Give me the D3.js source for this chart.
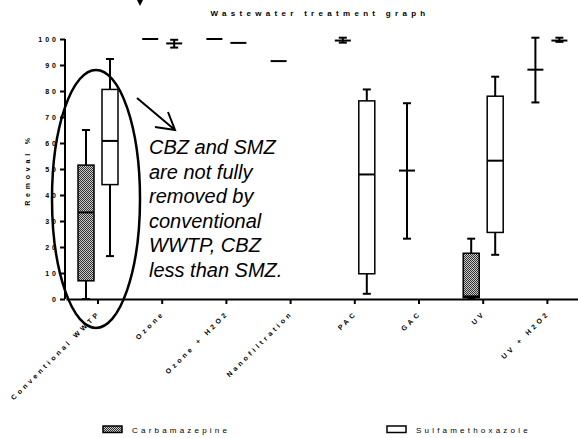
<!DOCTYPE html>
<html>
  <head>
    <meta charset="utf-8">
    <script src="https://d3js.org/d3.v7.min.js"></script>
    <title>Wastewater treatment graph</title>
    <style>
      body { margin: 0; background: #fff; }
      text { font-family: Arial, "Liberation Sans", sans-serif; }
    </style>
  </head>
  <body>
    <div id="chart"></div>
  <script>

    // DATA (removal %)
    const categories = ["Conventional WWTP", "Ozone", "Ozone + H2O2", "Nanofiltration",
                        "PAC", "GAC", "UV", "UV + H2O2"];
    const series = ["Carbamazepine", "Sulfamethoxazole"];

    // null = not shown; q1/q3 null = no box (mean with range only)
    const cbzMin = [0, 100, 100, 91.5, 98.6, 23.2, 0, 75.6];
    const cbzQ1  = [7, null, null, null, null, null, 0.5, null];
    const cbzMid = [33.3, 100, 100, 91.5, 99.4, 49.4, 1, 88.2];
    const cbzQ3  = [51.5, null, null, null, null, null, 17.6, null];
    const cbzMax = [65, 100, 100, 91.5, 100.5, 75.3, 23.2, 100.5];

    const smzMin = [16.5, 96.7, 98.5, null, 2, null, 17, 98.9];
    const smzQ1  = [44, null, null, null, 9.7, null, 25.6, null];
    const smzMid = [60.8, 98.3, 98.5, null, 47.9, null, 53.2, 99.4];
    const smzQ3  = [80.6, null, null, null, 76.2, null, 78, null];
    const smzMax = [92.3, 99.7, 98.5, null, 80.6, null, 85.5, 100.5];

    const yTicks = [0, 10, 20, 30, 40, 50, 60, 70, 80, 90, 100];

    const noteLines = ["CBZ and SMZ", "are not fully", "removed by",
                       "conventional", "WWTP, CBZ", "less than SMZ."];

    // LAYOUT
    const W = 578, H = 438;
    const svg = d3.select('#chart').append('svg')
      .attr('width', W).attr('height', H);

    const defs = svg.append('defs');
    const pat = defs.append('pattern')
      .attr('id', 'checks').attr('patternUnits', 'userSpaceOnUse')
      .attr('width', 2).attr('height', 2);
    pat.append('rect').attr('width', 2).attr('height', 2).attr('fill', '#c8c8c8');
    pat.append('rect').attr('width', 1).attr('height', 1).attr('fill', '#333');
    pat.append('rect').attr('x', 1).attr('y', 1).attr('width', 1).attr('height', 1).attr('fill', '#333');

    const x = d3.scaleBand().domain(categories).range([65.9, 579.5]);
    const xs = d3.scaleBand().domain(series).range([-24, 24]);
    const y = d3.scaleLinear().domain([0, 100]).range([299, 39]);
    const boxW = 16, capW = 8;

    // title
    svg.append('text')
      .attr('x', 320).attr('y', 16)
      .attr('text-anchor', 'middle')
      .attr('font-size', 8).attr('font-weight', 'bold')
      .attr('letter-spacing', 4.3)
      .text('Wastewater treatment graph');

    // cut-off arrow head at top
    svg.append('path')
      .attr('d', 'M137,0 L143,0 L140,6 Z')
      .attr('fill', '#000');

    // y axis
    const yAxis = svg.append('g')
      .attr('transform', 'translate(65,0)')
      .call(d3.axisLeft(y).tickValues(yTicks).tickSize(5).tickPadding(1).tickFormat(d3.format('d')));
    yAxis.selectAll('path, line').attr('stroke', '#000').attr('stroke-width', 2);
    yAxis.select('.domain').attr('d', 'M0,' + y(100) + 'V' + y(0));
    yAxis.selectAll('text')
      .attr('font-size', 7).attr('font-weight', 'bold')
      .attr('letter-spacing', 3).attr('font-family', 'Arial, "Liberation Sans", sans-serif');

    svg.append('text')
      .attr('transform', 'translate(30,170) rotate(-90)')
      .attr('text-anchor', 'middle')
      .attr('font-size', 7).attr('font-weight', 'bold')
      .attr('letter-spacing', 3.8)
      .text('Removal %');

    // x axis
    const xAxis = svg.append('g')
      .attr('transform', 'translate(0,' + y(0) + ')')
      .call(d3.axisBottom(x).tickSize(5).tickSizeOuter(0));
    xAxis.selectAll('path, line').attr('stroke', '#000').attr('stroke-width', 2);
    xAxis.selectAll('text').remove();
    xAxis.selectAll('.tick')
      .append('text')
      .attr('transform', 'translate(1,13) rotate(-45)')
      .attr('text-anchor', 'end')
      .attr('dy', '0.35em')
      .attr('fill', '#000')
      .attr('font-size', 7).attr('font-weight', 'bold')
      .attr('letter-spacing', 3.2)
      .attr('font-family', 'Arial, "Liberation Sans", sans-serif')
      .text(d => d);

    // build rows from arrays
    const stats = {
      Carbamazepine: [cbzMin, cbzQ1, cbzMid, cbzQ3, cbzMax],
      Sulfamethoxazole: [smzMin, smzQ1, smzMid, smzQ3, smzMax]
    };
    const rows = [];
    series.forEach(s => {
      const [mn, q1, md, q3, mx] = stats[s];
      categories.forEach((c, i) => {
        if (md[i] == null) return;
        rows.push({cat: c, s: s, min: mn[i], q1: q1[i], mid: md[i], q3: q3[i], max: mx[i]});
      });
    });
    const cx = d => x(d.cat) + x.bandwidth() / 2 + xs(d.s) + xs.bandwidth() / 2;

    const g = svg.append('g').attr('stroke', '#000').attr('fill', 'none');

    rows.forEach(d => {
      const c = cx(d);
      const hasBox = d.q1 != null;
      const lo = hasBox ? d.q1 : d.mid, hi = hasBox ? d.q3 : d.mid;
      // whiskers
      if (d.max > hi) {
        g.append('line').attr('x1', c).attr('x2', c).attr('y1', y(hi)).attr('y2', y(d.max)).attr('stroke-width', 2);
        g.append('line').attr('x1', c - capW / 2).attr('x2', c + capW / 2)
          .attr('y1', y(d.max)).attr('y2', y(d.max)).attr('stroke-width', 2);
      }
      if (d.min < lo) {
        g.append('line').attr('x1', c).attr('x2', c).attr('y1', y(lo)).attr('y2', y(d.min)).attr('stroke-width', 2);
        g.append('line').attr('x1', c - capW / 2).attr('x2', c + capW / 2)
          .attr('y1', y(d.min)).attr('y2', y(d.min)).attr('stroke-width', 2);
      }
      if (hasBox) {
        g.append('rect')
          .attr('x', c - boxW / 2).attr('width', boxW)
          .attr('y', y(d.q3)).attr('height', y(d.q1) - y(d.q3))
          .attr('fill', d.s === 'Carbamazepine' ? 'url(#checks)' : '#fff')
          .attr('stroke-width', 1.5);
      }
      g.append('line').attr('x1', c - boxW / 2).attr('x2', c + boxW / 2)
        .attr('y1', y(d.mid)).attr('y2', y(d.mid)).attr('stroke-width', 2);
    });

    // annotation: ellipse, arrow, note
    const c0 = x(categories[0]) + x.bandwidth() / 2;
    svg.append('ellipse')
      .attr('cx', c0 - 2).attr('cy', y(38.5))
      .attr('rx', 44).attr('ry', 129)
      .attr('fill', 'none').attr('stroke', '#000').attr('stroke-width', 2.5);

    svg.append('path')
      .attr('d', 'M137,98 L175,130 M168,112 L175,130 L155,127')
      .attr('fill', 'none').attr('stroke', '#000').attr('stroke-width', 2);

    svg.append('g').selectAll('text')
      .data(noteLines).enter().append('text')
      .attr('x', 149)
      .attr('y', (d, i) => 154 + i * 24.6)
      .attr('font-size', 20).attr('font-style', 'italic')
      .text(d => d);

    // legend
    const leg = svg.append('g');
    leg.append('rect').attr('x', 103).attr('y', 426).attr('width', 19).attr('height', 6.5)
      .attr('fill', 'url(#checks)').attr('stroke', '#000').attr('stroke-width', 1.5);
    leg.append('text').attr('x', 132).attr('y', 433)
      .attr('font-size', 8).attr('letter-spacing', 3.2).text(series[0]);
    leg.append('rect').attr('x', 387).attr('y', 426).attr('width', 19).attr('height', 6.5)
      .attr('fill', '#fff').attr('stroke', '#000').attr('stroke-width', 1.5);
    leg.append('text').attr('x', 416).attr('y', 433)
      .attr('font-size', 8).attr('letter-spacing', 3.2).text(series[1]);

  </script>
  </body>
</html>
